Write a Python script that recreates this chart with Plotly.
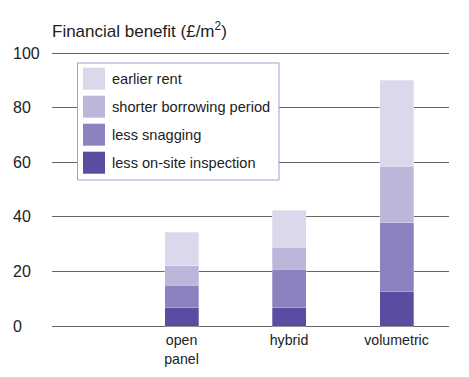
import plotly.graph_objects as go

# ---- data ----
categories = ["open<br>panel", "hybrid", "volumetric"]
series_names = ["less on-site inspection", "less snagging", "shorter borrowing period", "earlier rent"]
on_site = [6.6, 6.6, 12.7]
snagging = [8.4, 14.2, 25.1]
borrowing = [7.0, 8.1, 20.8]
earlier_rent = [12.3, 13.5, 31.4]
y_ticks = [0, 20, 40, 60, 80, 100]
title_text = "Financial benefit (£/m<sup>2</sup>)"

series_values = [on_site, snagging, borrowing, earlier_rent]
colors = ["#5a4da1", "#8b83bf", "#bcb7da", "#dbd8eb"]

# page body has an 8px default margin; work in window pixels and offset
OFF = 8
W, H = 469 - 2 * OFF, 377 - 2 * OFF
PL, PR, PT, PB = 52, 449, 48, 330          # plot area in window pixels
Y0_PX, Y100_PX = 326, 53                    # where 0 and 100 sit
UNIT = (Y0_PX - Y100_PX) / 100.0
Y_RANGE = [-(PB - Y0_PX) / UNIT, 100 + (Y100_PX - PT) / UNIT]
ML, MR, MT, MB = PL - OFF, W - (PR - OFF), PT - OFF, H - (PB - OFF)
PW, PH = PR - PL, PB - PT
FONT = "Liberation Sans, Arial, sans-serif"
TXT = "#222222"

def px_x(p):
    return (p - PL) / PW

def px_y(p):
    return (PB - p) / PH

fig = go.Figure()
for name, vals, col in zip(series_names, series_values, colors):
    fig.add_trace(go.Bar(
        x=categories, y=vals, name=name, width=0.316,
        marker=dict(color=col, line=dict(color="rgba(255,255,255,0.35)", width=0.8)),
        showlegend=False,
    ))

shapes = []
annotations = []

# custom legend box
shapes.append(dict(type="rect", xref="paper", yref="paper",
                   x0=px_x(77.5), x1=px_x(279), y0=px_y(180), y1=px_y(63),
                   line=dict(color="#a59dd0", width=1), fillcolor="white", layer="above"))
legend_order = list(range(len(series_names)))[::-1]
for i, k in enumerate(legend_order):
    top = 67.7 + 28 * i
    shapes.append(dict(type="rect", xref="paper", yref="paper",
                       x0=px_x(83), x1=px_x(105), y0=px_y(top + 22), y1=px_y(top),
                       line=dict(width=0), fillcolor=colors[k], layer="above"))
    annotations.append(dict(xref="paper", yref="paper", x=px_x(110), y=px_y(top + 11),
                            xanchor="left", yanchor="middle", showarrow=False,
                            text=series_names[k], font=dict(family=FONT, size=14.6, color=TXT)))

# y tick labels, left aligned
for t in y_ticks:
    annotations.append(dict(xref="paper", yref="y", x=px_x(11), y=t,
                            xanchor="left", yanchor="middle", showarrow=False,
                            text=str(t), font=dict(family=FONT, size=16, color=TXT)))

# title
annotations.append(dict(xref="paper", yref="paper", x=px_x(50), y=px_y(30),
                        xanchor="left", yanchor="middle", showarrow=False,
                        text=title_text, font=dict(family=FONT, size=17, color=TXT)))

fig.update_layout(
    width=W, height=H,
    margin=dict(l=ML, r=MR, t=MT, b=MB, pad=0),
    barmode="stack",
    plot_bgcolor="white", paper_bgcolor="white",
    font=dict(family=FONT, color=TXT),
    xaxis=dict(type="category", range=[-1.205, 2.488], showgrid=False, zeroline=False,
               showline=False, ticks="", automargin=False,
               tickfont=dict(family=FONT, size=14.2, color=TXT)),
    yaxis=dict(range=Y_RANGE, tickvals=y_ticks, showticklabels=False, automargin=False,
               showgrid=True, gridcolor="#666666", gridwidth=1, zeroline=False, showline=False),
    shapes=shapes,
    annotations=annotations,
)

fig.write_html("out.html")
